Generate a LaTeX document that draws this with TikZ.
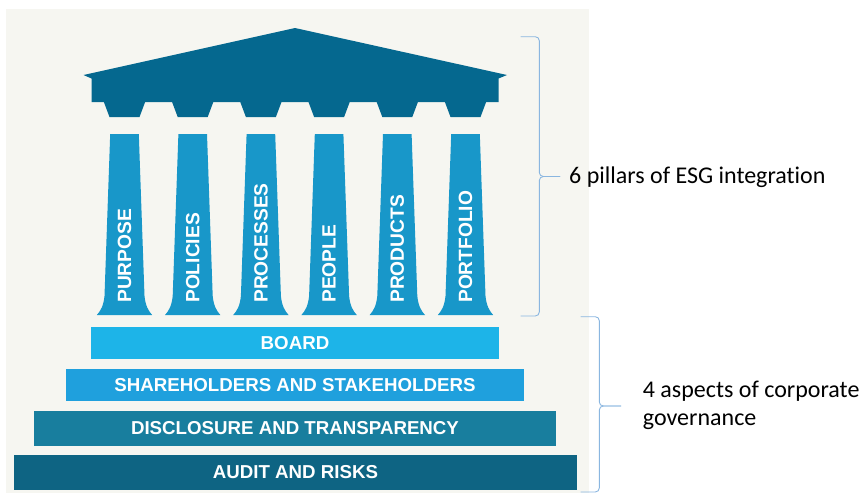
\documentclass[tikz,border=0pt]{standalone}
\usepackage{fontspec}
\setmainfont{Carlito}[Ligatures=NoCommon]
\newfontfamily\capsfont{Liberation Sans}
\usepackage{tikz}
\definecolor{backgr}{HTML}{F6F6F1}
\definecolor{roofblue}{HTML}{05688F}
\definecolor{pillarblue}{HTML}{1897C9}
\definecolor{boardblue}{HTML}{1DB4E8}
\definecolor{holderblue}{HTML}{1FA0DD}
\definecolor{discteal}{HTML}{187E9E}
\definecolor{auditteal}{HTML}{0E6483}
\definecolor{bracecol}{HTML}{8AB6E0}
\tikzstyle{every node}=[inner sep=0pt]
\tikzstyle{bar}=[rectangle, text=white, font=\capsfont\bfseries\fontsize{18.7}{22}\selectfont]
\tikzstyle{pillartext}=[rotate=90, anchor=west, text=white, font=\capsfont\bfseries\fontsize{19.2}{22}\selectfont]
\tikzstyle{brace}=[draw=bracecol, line width=0.9pt, rounded corners=4pt]
\tikzstyle{sidetext}=[anchor=base west, align=left, font=\fontsize{24}{27.7}\selectfont]

\begin{document}
\begin{tikzpicture}[x=1pt, y=-1pt]
 \useasboundingbox (0,0) rectangle (865,493);
 \fill[backgr] (6,9) rectangle (589,493);
 % roof
 \fill[roofblue] (83.5,75) -- (295,28) -- (507,75) -- (498.5,78.5) -- (498.5,102)
   -- (91.5,102) -- (91.5,78.5) -- cycle;
 % teeth, pillars and their words
 \foreach \i/\word in {1/PURPOSE,2/POLICIES,3/PROCESSES,4/PEOPLE,5/PRODUCTS,6/PORTFOLIO} {
   \pgfmathsetmacro{\c}{295+(\i-3.5)*68.2}
   \fill[roofblue] (\c-21,101) -- (\c-15,117) -- (\c+15,117) -- (\c+21,101) -- cycle;
   \fill[pillarblue] (\c-14.3,134) -- (\c+14.3,134) -- (\c+20,296)
     .. controls (\c+21,306) and (\c+24,311) .. (\c+27.7,315) -- (\c-27.7,315)
     .. controls (\c-24,311) and (\c-21,306) .. (\c-20,296) -- cycle;
   \node[pillartext] (p\i) at (\c,303) {\word};
 }
 % governance steps
 \node[bar, fill=boardblue, minimum width=408pt, minimum height=32pt] (board) at (295,343) {BOARD};
 \node[bar, fill=holderblue, minimum width=458.5pt, minimum height=31.4pt] (holders) at (295,385) {SHAREHOLDERS AND STAKEHOLDERS};
 \node[bar, fill=discteal, minimum width=521.3pt, minimum height=35.3pt] (disclosure) at (295,428.3) {DISCLOSURE AND TRANSPARENCY};
 \node[bar, fill=auditteal, minimum width=562.5pt, minimum height=35pt] (audit) at (295.5,472.5) {AUDIT AND RISKS};
 % braces
 \coordinate (ptop) at (520.7,36.7);
 \coordinate (pmid) at (539.3,176.5);
 \coordinate (ptip) at (560,176.5);
 \coordinate (pbot) at (520.7,316);
 \draw[brace] (ptop) -| (pmid) -- (ptip);
 \draw[brace] (pbot) -| (pmid) -- (ptip);
 \node[sidetext] (esg) at (569,183.3) {6 pillars of ESG integration};
 \coordinate (gtop) at (580.7,316.7);
 \coordinate (gmid) at (599.3,406);
 \coordinate (gtip) at (621,406);
 \coordinate (gbot) at (580.7,492);
 \draw[brace] (gtop) -| (gmid) -- (gtip);
 \draw[brace] (gbot) -| (gmid) -- (gtip);
 \node[sidetext] (gov) at (642.7,425) {4 aspects of corporate\\governance};
\end{tikzpicture}
\end{document}
